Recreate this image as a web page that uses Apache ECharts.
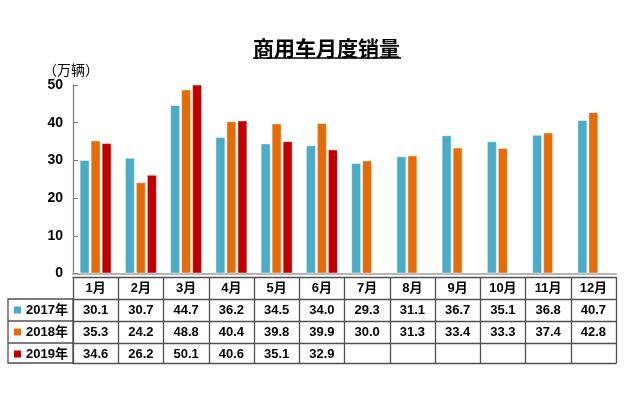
<!DOCTYPE html>
<html><head><meta charset="utf-8">
<script src="https://cdn.jsdelivr.net/npm/echarts@6/dist/echarts.min.js"></script>
<style>html,body{margin:0;padding:0;background:#fff}#c{width:640px;height:393px}</style>
</head><body><div id="c"></div>
<script>
const months = ['1月','2月','3月','4月','5月','6月','7月','8月','9月','10月','11月','12月'];
const seriesNames = ['2017年','2018年','2019年'];
const sales2017 = [30.1,30.7,44.7,36.2,34.5,34.0,29.3,31.1,36.7,35.1,36.8,40.7];
const sales2018 = [35.3,24.2,48.8,40.4,39.8,39.9,30.0,31.3,33.4,33.3,37.4,42.8];
const sales2019 = [34.6,26.2,50.1,40.6,35.1,32.9,null,null,null,null,null,null];
const colors = ['#4bacc6','#e46c0a','#c00000'];
const yMin = 0, yMax = 50, yStep = 10;

const FONT = "'Liberation Sans', 'Noto Sans CJK SC', sans-serif";
const GRID = {left:73, right:24, top:85, bottom:119.5};
const TBL = '#505050';
const fmt = v => (v === null || v === undefined) ? '' : v.toFixed(1);

function tableAxis(offset, values, extra) {
  return Object.assign({
    type:'category', data:months, position:'bottom', offset:offset,
    axisLine:{show:true, lineStyle:{color:TBL, width:1.3}},
    axisTick:{show:false},
    axisLabel:{show: !!values, interval:0, margin:5, fontSize:13, fontWeight:'bold', color:'#000', fontFamily:FONT,
      formatter:(v, i) => values ? (typeof values[0] === 'string' ? values[i] : fmt(values[i])) : ''},
    splitLine:{show:false}
  }, extra || {});
}

const chart = echarts.init(document.getElementById('c'), null, {renderer:'canvas'});
const allSeries = [sales2017, sales2018, sales2019];
chart.setOption({
  animation:false,
  textStyle:{fontFamily:FONT},
  title:{text:'商用车月度销量', left:253, top:38, padding:0,
    textStyle:{fontSize:21, fontWeight:'bold', color:'#000', fontFamily:"'Noto Sans CJK SC', sans-serif"}},
  legend:{data:seriesNames, orient:'vertical', left:14, top:299, padding:0, itemGap:0,
    itemWidth:7, itemHeight:7, icon:'rect', selectedMode:false,
    itemStyle:{borderWidth:0},
    textStyle:{fontSize:13, fontWeight:'bold', color:'#000', lineHeight:22, fontFamily:FONT}},
  grid:GRID,
  xAxis:[
    {type:'category', data:months, position:'bottom',
      axisLine:{lineStyle:{color:'#b5b5b5', width:2}}, axisTick:{show:false}, axisLabel:{show:false}},
    tableAxis(3.5, months, {axisTick:{show:true, interval:0, length:86, lineStyle:{color:TBL, width:1.3}}}),
    tableAxis(25.5, sales2017),
    tableAxis(47.5, sales2018),
    tableAxis(69.5, sales2019),
    tableAxis(89.5, null)
  ],
  yAxis:{type:'value', min:yMin, max:yMax, interval:yStep,
    name:'（万辆）', nameLocation:'end', nameGap:8,
    nameTextStyle:{fontSize:14, color:'#000', align:'center', padding:[0,4,0,0], fontFamily:'Noto Sans CJK TC'},
    axisLine:{show:true, lineStyle:{color:'#808080', width:1.3}},
    axisTick:{show:true, inside:true, length:5, lineStyle:{color:'#808080'}},
    axisLabel:{fontSize:14, fontWeight:'bold', color:'#000', margin:10},
    splitLine:{show:false}},
  series: allSeries.map((d, k) => ({
    name:seriesNames[k], type:'bar', data:d, barWidth:10, barGap:'10%',
    itemStyle:{color:colors[k], borderColor:'rgba(255,255,255,0.45)', borderWidth:1}
  })),
  graphic:[
    {type:'line', shape:{x1:253, y1:58, x2:401, y2:58}, style:{stroke:'#000', lineWidth:1.5}},
    {type:'rect', shape:{x:8, y:299, width:65, height:64}, style:{fill:'none', stroke:TBL, lineWidth:1.3}},
    {type:'line', shape:{x1:8, y1:321, x2:73, y2:321}, style:{stroke:TBL, lineWidth:1.3}},
    {type:'line', shape:{x1:8, y1:343, x2:73, y2:343}, style:{stroke:TBL, lineWidth:1.3}}
  ]
});
</script></body></html>
